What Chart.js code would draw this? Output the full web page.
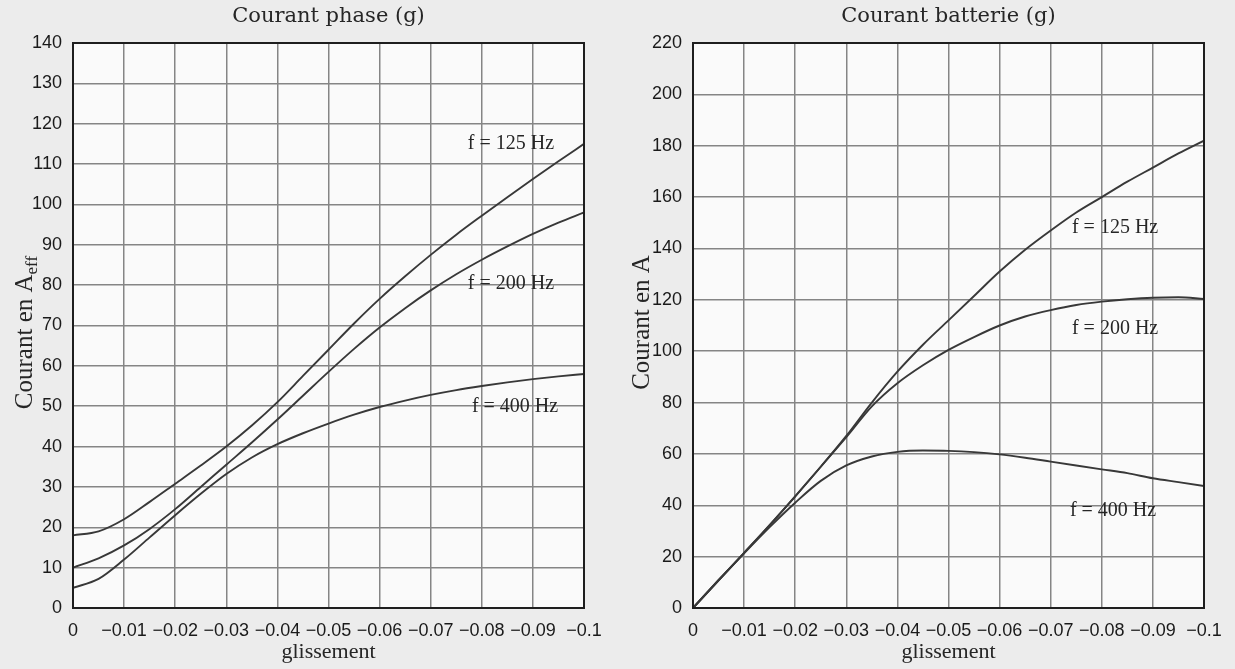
<!DOCTYPE html>
<html>
<head>
<meta charset="utf-8">
<script src="https://cdn.jsdelivr.net/npm/chart.js@4.4.1/dist/chart.umd.min.js"></script>
<style>
  html, body { margin: 0; padding: 0; background: #ebebeb; }
  #wrap { position: relative; width: 1235px; height: 669px; overflow: hidden; }
  canvas { position: absolute; top: 0; }
  #phase { left: 0; }
  #batt { left: 617px; }
</style>
</head>
<body>
<div id="wrap">
  <canvas id="phase" width="617" height="669"></canvas>
  <canvas id="batt" width="618" height="669"></canvas>
</div>
<script>
// ── Data (glissement is negative, axis runs 0 → -0.1) ──────────────

const GLISSEMENT = [0, -0.005, -0.01, -0.015, -0.02, -0.025, -0.03, -0.035, -0.04, -0.045,
  -0.05, -0.055, -0.06, -0.065, -0.07, -0.075, -0.08, -0.085, -0.09, -0.095, -0.1];

// Courant phase (A eff)
const PHASE_125 = [18, 19, 22, 26.3, 30.8, 35.3, 40, 45.2, 51, 57.5,
  64, 70.5, 76.6, 82.2, 87.5, 92.5, 97.2, 101.8, 106.3, 110.7, 115];
const PHASE_200 = [10, 12.3, 15.5, 19.6, 24.5, 30, 35.5, 41, 46.7, 52.6,
  58.5, 64.2, 69.5, 74.3, 78.7, 82.7, 86.3, 89.6, 92.7, 95.5, 98];
const PHASE_400 = [5, 7.2, 12, 17.5, 23, 28.3, 33.2, 37.3, 40.6, 43.3,
  45.7, 47.9, 49.8, 51.4, 52.8, 54, 55, 55.9, 56.7, 57.4, 58];

// Courant batterie (A)
const BATT_125 = [0, 10.8, 21.5, 32.3, 43.5, 55, 67, 80, 92, 102.5,
  112, 121.5, 131, 139.5, 147, 154, 160, 166, 171.5, 177, 182];
const BATT_200 = [0, 10.8, 21.5, 32.3, 43.5, 55, 66.5, 78.5, 87.5, 94.5,
  100.5, 105.5, 110, 113.5, 116, 118, 119.3, 120.2, 120.8, 121, 120.3];
const BATT_400 = [0, 10.8, 21.3, 31.5, 41, 49.5, 55.5, 59, 60.8, 61.3,
  61.2, 60.7, 59.8, 58.5, 57, 55.5, 54, 52.5, 50.5, 49, 47.5];

const FREQ_LABELS = ['f = 125 Hz', 'f = 200 Hz', 'f = 400 Hz'];

// curve label anchors, in data units [glissement, courant]
const PHASE_LABEL_AT = [[-0.0857, 115], [-0.0857, 80.3], [-0.0865, 49.8]];
const BATT_LABEL_AT = [[-0.0826, 148], [-0.0826, 108.6], [-0.0822, 37.8]];

// ── Styles ─────────────────────────────────────────────────────────

const PAGE_BG = '#ececec';
const PLOT_BG = '#fafafa';
const INK = '#262626';
const CURVE = '#383838';
const GRID = '#858585';
const TICK_FONT = { family: "'Liberation Sans', Arial, sans-serif", size: 18 };
const SERIF = "'Liberation Serif', 'Times New Roman', serif";

// ── Plugins ────────────────────────────────────────────────────────

const backdrop = {
  id: 'backdrop',
  beforeDraw(chart) {
    const { ctx, chartArea: a } = chart;
    ctx.save();
    ctx.fillStyle = PAGE_BG;
    ctx.fillRect(0, 0, chart.width, chart.height);
    ctx.fillStyle = PLOT_BG;
    ctx.fillRect(a.left, a.top, a.right - a.left, a.bottom - a.top);
    ctx.restore();
  },
};

const frameAndText = {
  id: 'frameAndText',
  afterDraw(chart, args, opts) {
    const { ctx, chartArea: a, scales } = chart;
    ctx.save();
    // plot frame
    ctx.strokeStyle = '#1e1e1e';
    ctx.lineWidth = 2;
    ctx.strokeRect(a.left, a.top, a.right - a.left, a.bottom - a.top);

    const cx = (a.left + a.right) / 2;
    ctx.fillStyle = INK;
    ctx.textAlign = 'center';
    ctx.textBaseline = 'middle';

    // chart title
    ctx.font = `21px 'DejaVu Serif', serif`;
    ctx.fillText(opts.title, cx, 17);

    // x title
    ctx.font = `22px ${SERIF}`;
    ctx.fillText('glissement', cx, 652);

    // y title, with optional subscript
    ctx.save();
    ctx.translate(opts.yTitleX, (a.top + a.bottom) / 2 + opts.yTitleShift);
    ctx.rotate(-Math.PI / 2);
    ctx.font = `25px ${SERIF}`;
    const mainW = ctx.measureText(opts.yTitle).width;
    ctx.font = `17px ${SERIF}`;
    const subW = opts.ySub ? ctx.measureText(opts.ySub).width : 0;
    const x0 = -(mainW + subW) / 2;
    ctx.textAlign = 'left';
    ctx.textBaseline = 'alphabetic';
    ctx.font = `25px ${SERIF}`;
    ctx.fillText(opts.yTitle, x0, 8);
    if (opts.ySub) {
      ctx.font = `17px ${SERIF}`;
      ctx.fillText(opts.ySub, x0 + mainW, 13);
    }
    ctx.restore();

    // curve labels
    ctx.font = `20px ${SERIF}`;
    ctx.textAlign = 'center';
    ctx.textBaseline = 'middle';
    opts.labels.forEach((txt, i) => {
      const [gx, gy] = opts.labelAt[i];
      ctx.fillText(txt, scales.x.getPixelForValue(gx), scales.y.getPixelForValue(gy));
    });
    ctx.restore();
  },
};

// ── Chart builder ──────────────────────────────────────────────────

function fmtG(v) {
  if (Math.abs(v) < 1e-9) return '0';
  return '\u2212' + String(parseFloat(Math.abs(v).toFixed(2)));
}

function makeChart(canvasId, series, yMax, yStep, yAxisWidth, padRight, text) {
  const datasets = series.map(vals => ({
    data: vals.map((v, i) => ({ x: GLISSEMENT[i], y: v })),
    borderColor: CURVE,
    borderWidth: 1.9,
    pointRadius: 0,
    cubicInterpolationMode: 'monotone',
    fill: false,
  }));

  return new Chart(document.getElementById(canvasId), {
    type: 'line',
    data: { datasets },
    options: {
      responsive: false,
      animation: false,
      events: [],
      layout: { padding: { top: 43, right: padRight, left: 0, bottom: 0 } },
      plugins: {
        legend: { display: false },
        tooltip: { enabled: false },
        frameAndText: text,
      },
      scales: {
        x: {
          type: 'linear',
          min: -0.1,
          max: 0,
          reverse: true,
          afterFit: s => { s.height = 61; },
          grid: { color: GRID, lineWidth: 1.5, drawTicks: false },
          border: { display: false },
          ticks: {
            stepSize: 0.01,
            padding: 12,
            color: '#1a1a1a',
            font: TICK_FONT,
            maxRotation: 0,
            autoSkip: false,
            callback: fmtG,
          },
        },
        y: {
          min: 0,
          max: yMax,
          afterFit: s => { s.width = yAxisWidth; },
          grid: { color: GRID, lineWidth: 1.5, drawTicks: false },
          border: { display: false },
          ticks: { stepSize: yStep, padding: 11, color: '#1a1a1a', font: TICK_FONT },
        },
      },
    },
    plugins: [backdrop, frameAndText],
  });
}

makeChart('phase', [PHASE_125, PHASE_200, PHASE_400], 140, 10, 73, 33, {
  title: 'Courant phase (g)',
  yTitle: 'Courant en A',
  ySub: 'eff',
  yTitleX: 24,
  yTitleShift: 7,
  labels: FREQ_LABELS,
  labelAt: PHASE_LABEL_AT,
});

makeChart('batt', [BATT_125, BATT_200, BATT_400], 220, 20, 76, 31, {
  title: 'Courant batterie (g)',
  yTitle: 'Courant en A',
  ySub: '',
  yTitleX: 24,
  yTitleShift: -3,
  labels: FREQ_LABELS,
  labelAt: BATT_LABEL_AT,
});
</script>
</body>
</html>
